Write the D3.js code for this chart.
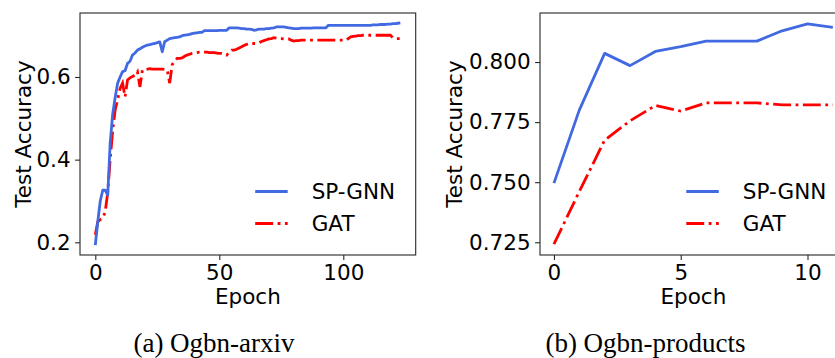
<!DOCTYPE html>
<html>
<head>
<meta charset="utf-8">
<script src="https://cdn.jsdelivr.net/npm/d3@7"></script>
<style>
  body { margin: 0; background: #fff; }
</style>
</head>
<body>
<script>
// test accuracy per epoch

// (a) ogbn-arxiv, epochs 0..123
let arxivSP = [
  0.193, 0.250, 0.300, 0.326, 0.326, 0.314, 0.440, 0.510, 0.550, 0.585,
  0.600, 0.613, 0.615, 0.633, 0.638, 0.653, 0.658, 0.665, 0.668, 0.672,
  0.675, 0.677, 0.678, 0.680, 0.681, 0.683, 0.685, 0.661, 0.686, 0.689,
  0.693, 0.694, 0.695, 0.696, 0.697, 0.700, 0.701, 0.702, 0.703, 0.705,
  0.706, 0.707, 0.708, 0.708, 0.712, 0.712, 0.712, 0.712, 0.712, 0.712,
  0.713, 0.713, 0.713, 0.713, 0.719, 0.719, 0.719, 0.719, 0.718, 0.717,
  0.717, 0.716, 0.716, 0.715, 0.713, 0.714, 0.716, 0.716, 0.716, 0.717,
  0.717, 0.718, 0.719, 0.721, 0.721, 0.721, 0.721, 0.720, 0.719, 0.718,
  0.717, 0.717, 0.717, 0.718, 0.718, 0.718, 0.718, 0.718, 0.719, 0.719,
  0.719, 0.719, 0.719, 0.719, 0.725, 0.725, 0.725, 0.725, 0.725, 0.725,
  0.725, 0.725, 0.725, 0.725, 0.725, 0.725, 0.725, 0.725, 0.725, 0.725,
  0.725, 0.725, 0.726, 0.726, 0.726, 0.727, 0.727, 0.727, 0.728, 0.728,
  0.729, 0.729, 0.730, 0.731
];
let arxivGAT = [
  0.218, 0.250, 0.255, 0.258, 0.274, 0.320, 0.400, 0.470, 0.520, 0.545,
  0.572, 0.585, 0.552, 0.593, 0.598, 0.601, 0.605, 0.613, 0.576, 0.617,
  0.618, 0.619, 0.620, 0.619, 0.619, 0.619, 0.619, 0.619, 0.618, 0.617,
  0.585, 0.630, 0.638, 0.645, 0.645, 0.646, 0.650, 0.653, 0.655, 0.657,
  0.658, 0.659, 0.660, 0.660, 0.660, 0.660, 0.659, 0.659, 0.659, 0.658,
  0.657, 0.657, 0.655, 0.653, 0.660, 0.665, 0.665, 0.667, 0.670, 0.673,
  0.676, 0.679, 0.681, 0.681, 0.681, 0.681, 0.683, 0.686, 0.688, 0.690,
  0.692, 0.693, 0.695, 0.694, 0.693, 0.693, 0.692, 0.692, 0.692, 0.689,
  0.687, 0.688, 0.688, 0.689, 0.689, 0.689, 0.689, 0.689, 0.689, 0.689,
  0.689, 0.689, 0.689, 0.689, 0.689, 0.689, 0.689, 0.689, 0.689, 0.689,
  0.689, 0.689, 0.693, 0.697, 0.698, 0.699, 0.700, 0.700, 0.701, 0.701,
  0.701, 0.701, 0.701, 0.701, 0.701, 0.701, 0.701, 0.701, 0.701, 0.701,
  0.695, 0.693, 0.693, 0.693
];

// (b) ogbn-products, epochs 0..11
let productsSP  = [0.7496, 0.7800, 0.8036, 0.7985, 0.8044, 0.8064, 0.8087, 0.8087, 0.8087, 0.8130, 0.8159, 0.8144];
let productsGAT = [0.7242, 0.7461, 0.7675, 0.7755, 0.7819, 0.7796, 0.7830, 0.7830, 0.7830, 0.7822, 0.7822, 0.7822];

let seriesNames = ["SP-GNN", "GAT"];
let seriesColors = ["#4169e1", "#ff0000"];

let arxivXTicks = [0, 50, 100];
let arxivYTicks = [0.2, 0.4, 0.6];
let productsXTicks = [0, 5, 10];
let productsYTicks = [0.725, 0.750, 0.775, 0.800];

let captions = ["(a) Ogbn-arxiv", "(b) Ogbn-products"];

let width = 835, height = 358;
let fontSize = "21.5px";
let sans = "'DejaVu Sans', sans-serif";

let svg = d3.select("body")
            .append("svg")
              .attr("width", width)
              .attr("height", height);

// one panel = one matplotlib axes
function drawPanel(opts) {
  let xScale = d3.scaleLinear()
                 .domain(opts.xDomain)
                 .range(opts.xRange);
  let yScale = d3.scaleLinear()
                 .domain(opts.yDomain)
                 .range([255, 13]);

  let g = svg.append("g");

  // frame
  g.append("rect")
    .attr("x", opts.xRange[0])
    .attr("y", 13)
    .attr("width", opts.xRange[1] - opts.xRange[0])
    .attr("height", 255 - 13)
    .attr("fill", "none")
    .attr("stroke", "#262626")
    .attr("stroke-width", 1.1);

  let xAxis = g.append("g")
     .attr("transform", `translate(0,255)`)
     .call(d3.axisBottom(xScale).tickValues(opts.xTicks)
             .tickFormat(d3.format("d")).tickSize(4.9).tickPadding(4.5));
  let yAxis = g.append("g")
     .attr("transform", `translate(${opts.xRange[0]},0)`)
     .call(d3.axisLeft(yScale).tickValues(opts.yTicks)
             .tickFormat(d3.format(opts.yFormat)).tickSize(4.9).tickPadding(4.5));

  [xAxis, yAxis].forEach(a => {
    a.select(".domain").remove();
    a.selectAll("line").attr("stroke", "#262626").attr("stroke-width", 1.1);
    a.selectAll("text")
      .style("font-family", sans)
      .style("font-size", fontSize)
      .attr("fill", "#000");
  });

  let line = d3.line()
               .x((d, i) => xScale(i))
               .y((d) => yScale(d));

  // GAT under SP-GNN like the original
  g.append("path")
    .datum(opts.gat)
    .attr("d", line)
    .attr("fill", "none")
    .attr("stroke", seriesColors[1])
    .attr("stroke-width", 2.8)
    .attr("stroke-dasharray", "17.9,4.5,2.8,4.5");
  g.append("path")
    .datum(opts.sp)
    .attr("d", line)
    .attr("fill", "none")
    .attr("stroke", seriesColors[0])
    .attr("stroke-width", 2.8)
    .attr("stroke-linejoin", "round");

  // axis titles
  g.append("text")
    .attr("x", (opts.xRange[0] + opts.xRange[1]) / 2)
    .attr("y", 303.5)
    .attr("text-anchor", "middle")
    .style("font-family", sans)
    .style("font-size", fontSize)
    .text("Epoch");
  g.append("text")
    .attr("transform", `translate(${opts.yLabelX},134) rotate(-90)`)
    .attr("text-anchor", "middle")
    .style("font-family", sans)
    .style("font-size", fontSize)
    .text("Test Accuracy");

  // legend (no frame)
  let lx = opts.xRange[1] - 160.5;
  seriesNames.forEach((name, i) => {
    let ly = 191.5 + i * 32;
    g.append("line")
      .attr("x1", lx).attr("x2", lx + 32.5)
      .attr("y1", ly).attr("y2", ly)
      .attr("stroke", seriesColors[i])
      .attr("stroke-width", 2.8)
      .attr("stroke-dasharray", i == 1 ? "17.9,4.5,2.8,4.5" : null);
    g.append("text")
      .attr("x", lx + 56.5)
      .attr("y", ly + 7.6)
      .style("font-family", sans)
      .style("font-size", fontSize)
      .text(name);
  });

  // subfigure caption
  svg.append("text")
    .attr("x", opts.captionX)
    .attr("y", 352)
    .attr("text-anchor", "middle")
    .style("font-family", "'Liberation Serif', serif")
    .style("font-size", "27px")
    .text(opts.caption);
}

drawPanel({
  sp: arxivSP, gat: arxivGAT,
  xDomain: [-6.17, 129.2], xRange: [80, 415.7],
  yDomain: [0.1693, 0.7548], yFormat: ".1f",
  xTicks: arxivXTicks, yTicks: arxivYTicks,
  yLabelX: 30.5, caption: captions[0], captionX: 214
});

drawPanel({
  sp: productsSP, gat: productsGAT,
  xDomain: [-0.55, 11.55], xRange: [540, 846.8],
  yDomain: [0.7197, 0.8204], yFormat: ".3f",
  xTicks: productsXTicks, yTicks: productsYTicks,
  yLabelX: 462, caption: captions[1], captionX: 645.5
});
</script>
</body>
</html>
